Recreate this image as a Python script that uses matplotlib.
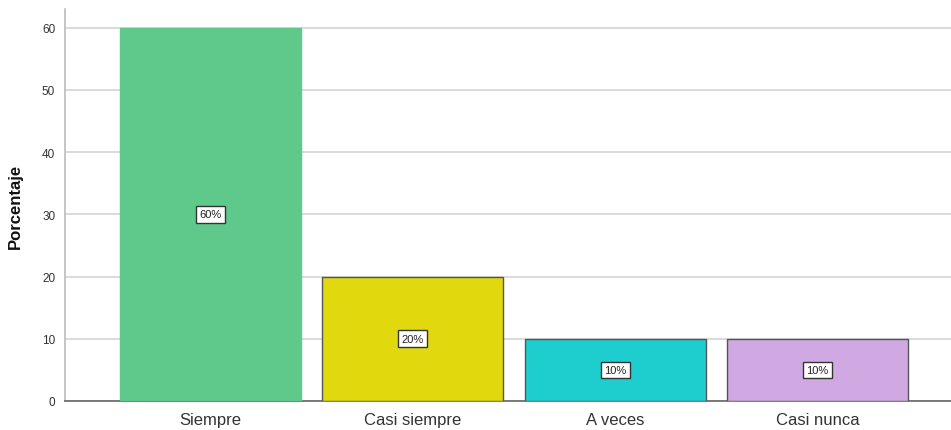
import matplotlib.pyplot as plt

categories = ["Siempre", "Casi siempre", "A veces", "Casi nunca"]
percentages = [60, 20, 10, 10]
bar_colors = ["#5ec98b", "#e2d80e", "#1ecdcd", "#d0a9e3"]
edge_colors = ["#5ec98b", "#555555", "#555555", "#555555"]


def main():
    plt.rcParams["font.family"] = ["Liberation Sans", "DejaVu Sans"]

    fig = plt.figure(figsize=(9.51, 4.31), dpi=100, facecolor="white")
    ax = fig.add_axes([0.0683, 0.0673, 0.9317, 0.9097])

    positions = list(range(len(categories)))
    ax.bar(positions, percentages, width=0.895, color=bar_colors,
           edgecolor=edge_colors, linewidth=1.0, zorder=3)

    # value boxes sit at the middle of each bar
    for x, val in zip(positions, percentages):
        ax.text(x, val / 2, f"{val}%", ha="center", va="center", fontsize=8,
                color="#222222", zorder=4,
                bbox=dict(boxstyle="square,pad=0.3", facecolor="white",
                          edgecolor="#333333", linewidth=1.0))

    ax.set_xlim(-0.72, 3.66)
    ax.set_ylim(0, 63)
    ax.set_yticks(range(0, 61, 10))
    ax.set_xticks(positions)
    ax.set_xticklabels(categories, fontsize=12, color="#333333")
    ax.tick_params(axis="y", labelsize=8.5, colors="#333333", length=0, pad=7)
    ax.tick_params(axis="x", length=0, pad=8)

    ax.yaxis.grid(True, color="#d4d4d4", linewidth=1.2, zorder=0)
    ax.set_axisbelow(True)
    for side in ("top", "right"):
        ax.spines[side].set_visible(False)
    ax.spines["left"].set_color("#bbbbbb")
    ax.spines["left"].set_linewidth(1.2)
    ax.spines["bottom"].set_color("#666666")
    ax.spines["bottom"].set_linewidth(1.2)

    ax.set_ylabel("Porcentaje", fontsize=12, fontweight="bold", color="#111111",
                  labelpad=14)

    fig.savefig("out.png", dpi=100, facecolor="white")
    plt.close(fig)


if __name__ == "__main__":
    main()
